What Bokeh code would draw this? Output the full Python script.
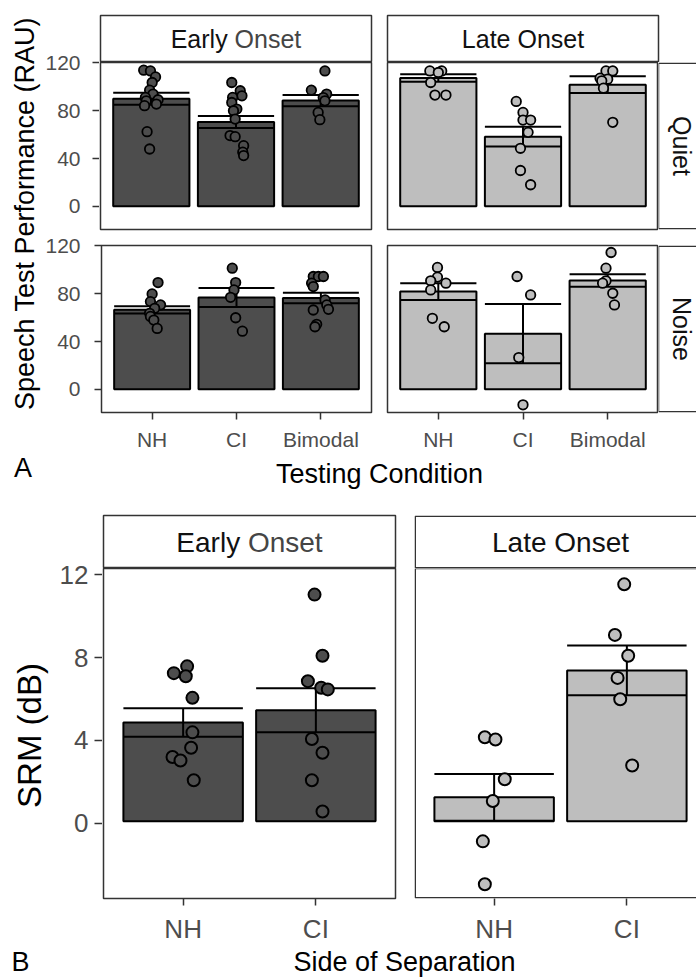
import math
from bokeh.plotting import figure
from bokeh.layouts import row, column
from bokeh.models import Range1d, FixedTicker, Label, BoxAnnotation, Spacer, LinearAxis
from bokeh.embed import file_html
from bokeh.resources import INLINE

FONT = "Liberation Sans"

# ---------------- data ----------------
conditions_a = ["NH", "CI", "Bimodal"]
conditions_b = ["NH", "CI"]
y_ticks_a = [0, 40, 80, 120]
y_ticks_b = [0, 4, 8, 12]

# Panel A: bar means and standard errors (RAU)
a_early_quiet_mean = [90.0, 70.5, 88.5]
a_early_quiet_se = [5.0, 5.0, 4.7]
a_late_quiet_mean = [107.4, 58.3, 101.8]
a_late_quiet_se = [3.1, 8.3, 7.0]
a_early_noise_mean = [66.5, 76.8, 76.4]
a_early_noise_se = [3.0, 8.0, 4.4]
a_late_noise_mean = [81.8, 46.6, 91.0]
a_late_noise_se = [7.0, 24.8, 5.2]

# Panel A: individual listeners (values) and their horizontal jitter
a_early_quiet_pts = [
    [113.9, 113.3, 108.3, 103.6, 97.2, 93.9, 91.1, 89.2, 88.3, 85.6, 84.2, 62.5, 48.0],
    [103.6, 96.7, 92.5, 91.1, 86.9, 81.4, 80.0, 73.0, 59.2, 58.3, 50.8, 45.3, 42.5],
    [113.3, 97.2, 93.9, 91.0, 88.3, 78.6, 72.5],
]
a_early_quiet_jit = [
    [-0.09, -0.01, 0.05, 0.01, -0.02, 0.02, -0.07, 0.08, -0.06, 0.06, -0.08, -0.05, -0.02],
    [-0.05, 0.05, 0.07, -0.04, -0.05, 0.01, -0.03, -0.01, -0.07, -0.01, 0.09, 0.08, 0.09],
    [0.05, -0.11, 0.07, 0.03, 0.05, -0.03, -0.01],
]
a_late_quiet_pts = [
    [113.3, 113.3, 112.0, 103.6, 93.1, 93.1],
    [87.8, 78.6, 72.2, 72.2, 61.9, 48.6, 30.0, 18.1],
    [113.3, 113.3, 107.2, 106.4, 105.0, 98.9, 70.3],
]
a_late_quiet_jit = [
    [-0.10, 0.04, 0.00, -0.09, -0.04, 0.09],
    [-0.08, 0.00, 0.00, 0.09, 0.06, -0.03, -0.03, 0.09],
    [-0.02, 0.06, -0.09, 0.00, -0.07, -0.05, 0.06],
]
a_early_noise_pts = [
    [89.3, 79.8, 73.4, 70.6, 67.8, 63.6, 61.0, 58.0, 51.0],
    [101.4, 89.3, 83.2, 77.0, 59.9, 48.7],
    [94.4, 94.4, 94.4, 88.8, 86.0, 74.8, 70.6, 67.0, 66.4, 54.4, 52.4],
]
a_early_noise_jit = [
    [0.07, 0.00, -0.02, 0.10, 0.03, -0.03, -0.02, 0.02, 0.06],
    [-0.05, -0.01, -0.03, -0.07, -0.01, 0.07],
    [-0.09, -0.03, 0.03, -0.11, -0.09, 0.05, 0.07, 0.09, -0.09, -0.05, -0.07],
]
a_late_noise_pts = [
    [102.0, 93.9, 90.8, 88.8, 83.2, 59.4, 52.4],
    [94.4, 79.0, 26.6, -12.9],
    [114.5, 101.4, 90.8, 88.8, 80.4, 70.6],
]
a_late_noise_jit = [
    [-0.01, -0.01, -0.09, 0.09, -0.09, -0.07, 0.07],
    [-0.07, 0.09, -0.05, 0.00],
    [0.04, -0.02, -0.02, -0.06, 0.06, 0.08],
]

# Panel B: SRM (dB)
b_early_mean = [4.80, 5.39]
b_early_se = [0.69, 1.07]
b_late_mean = [1.16, 7.33]
b_late_se = [1.14, 1.21]
b_early_pts = [
    [7.53, 7.20, 7.05, 6.00, 4.32, 3.57, 3.12, 2.95, 1.99],
    [11.02, 8.05, 6.81, 6.49, 6.41, 4.00, 3.33, 1.99, 0.47],
]
b_early_jit = [
    [0.03, -0.07, 0.02, 0.07, 0.07, 0.06, -0.08, -0.02, 0.08],
    [-0.01, 0.05, -0.06, 0.04, 0.09, -0.03, 0.05, -0.03, 0.05],
]
b_late_pts = [
    [4.08, 3.97, 2.04, 0.98, -0.98, -3.07],
    [11.52, 9.06, 8.05, 6.97, 5.93, 2.71],
]
b_late_jit = [
    [-0.07, 0.01, 0.08, -0.01, -0.085, -0.07],
    [-0.02, -0.09, 0.01, -0.07, -0.05, 0.04],
]

# ---------------- styling ----------------
EARLY_FILL = "#4D4D4D"
LATE_FILL = "#BEBEBE"
BORDER = "#333333"
TICK_TXT = "#4D4D4D"
STRIP_TXT = "#111111"
HALF = 0.75  # half of the border line width, in pixels

A_YR = (-19.35, 120.35)
A_XR = (0.4, 3.6)
A_FW, A_FH = 271, 167

B_YR = (-3.76, 12.29)
B_FW_E, B_FW_L, B_FH = 292, 282, 333
B_PX = B_FW_E / 2.2
B_PY = B_FH / (B_YR[1] - B_YR[0])
B_XR_E = (0.4, 2.6)
B_XR_L = (0.4, 0.4 + B_FW_L / B_PX)


def new_fig(w, h, left, right, top, bottom, xr, yr, outline=True):
    p = figure(width=w, height=h, x_range=Range1d(*xr), y_range=Range1d(*yr),
               x_axis_type=None, y_axis_type=None, toolbar_location=None,
               output_backend="svg", title=None, min_border=0)
    p.min_border_left = left
    p.min_border_right = right
    p.min_border_top = top
    p.min_border_bottom = bottom
    p.background_fill_color = "white"
    p.border_fill_color = "white"
    if outline:
        p.outline_line_color = BORDER
        p.outline_line_width = 1.5
    else:
        p.outline_line_color = None
    return p


def style_axis(ax, fs, standoff, tick_in=0):
    ax.axis_line_color = None
    ax.major_tick_line_color = BORDER
    ax.major_tick_line_width = 1.5
    ax.major_tick_out = 7
    ax.major_tick_in = tick_in
    ax.minor_tick_line_color = None
    ax.minor_tick_out = 0
    ax.major_label_text_font = FONT
    ax.major_label_text_font_size = f"{fs}px"
    ax.major_label_text_color = TICK_TXT
    ax.major_label_standoff = standoff


def add_y_axis(p, ticks, fs, standoff, tick_in=0):
    ax = LinearAxis(ticker=FixedTicker(ticks=ticks))
    style_axis(ax, fs, standoff, tick_in)
    p.add_layout(ax, "left")


def add_x_axis(p, labels, fs, standoff):
    ticks = list(range(1, len(labels) + 1))
    ax = LinearAxis(ticker=FixedTicker(ticks=ticks),
                    major_label_overrides={t: l for t, l in zip(ticks, labels)})
    style_axis(ax, fs, standoff)
    p.add_layout(ax, "below")


def draw_data(p, means, se, pts, jit, fill, size, lw):
    xs = list(range(1, len(means) + 1))
    p.vbar(x=xs, top=means, bottom=0, width=0.9, fill_color=fill,
           line_color="black", line_width=2)
    lo = [m - s for m, s in zip(means, se)]
    hi = [m + s for m, s in zip(means, se)]
    xl = [x - 0.45 for x in xs]
    xr = [x + 0.45 for x in xs]
    p.segment(x0=xs, y0=lo, x1=xs, y1=hi, line_color="black", line_width=2)
    p.segment(x0=xl, y0=hi, x1=xr, y1=hi, line_color="black", line_width=2)
    p.segment(x0=xl, y0=lo, x1=xr, y1=lo, line_color="black", line_width=2)
    px, py = [], []
    for i, x in enumerate(xs):
        for v, j in zip(pts[i], jit[i]):
            px.append(x + j)
            py.append(v)
    p.scatter(px, py, marker="circle", size=size, fill_color=fill,
              line_color="black", line_width=lw)


def add_text(p, x, y, text, fs, color="black", angle=0.0, align="center"):
    p.add_layout(Label(x=x, y=y, text=text, text_font=FONT,
                       text_font_size=f"{fs}px", text_color=color,
                       text_align=align, text_baseline="middle", angle=angle))


def strip_label(p, cx, cy, text, fs):
    if text == "Early Onset":
        add_text(p, cx - 0.334 * fs, cy, "Early", fs, color=STRIP_TXT, align="right")
        add_text(p, cx - 0.056 * fs, cy, "Onset", fs, color="#454545", align="left")
    else:
        add_text(p, cx, cy, text, fs, color=STRIP_TXT)


def open_box(p, left, right, bottom, top):
    p.add_layout(BoxAnnotation(left=left, right=right, bottom=bottom, top=top,
                               fill_color=None, fill_alpha=0,
                               line_color=BORDER, line_alpha=1.0, line_width=1.5))


# ---------------- panel A ----------------
axisQ = new_fig(57, 231, 56, 0, 62, 2, (0, 1), A_YR, outline=False)
add_y_axis(axisQ, y_ticks_a, 21, 12, tick_in=1)

stripE = new_fig(274, 62, 1, 2, 15, 0, (0, A_FW), (0, 47))
strip_label(stripE, A_FW / 2, 23.5, "Early Onset", 25)
stripL = new_fig(287, 62, 14, 2, 15, 0, (0, A_FW), (0, 47))
strip_label(stripL, A_FW / 2, 23.5, "Late Onset", 25)

EQ = new_fig(274, 169, 1, 2, 0, 2, A_XR, A_YR)
draw_data(EQ, a_early_quiet_mean, a_early_quiet_se, a_early_quiet_pts, a_early_quiet_jit, EARLY_FILL, 9.5, 1.8)

LQ = new_fig(285, 169, 14, 0, 0, 2, A_XR, A_YR)
draw_data(LQ, a_late_quiet_mean, a_late_quiet_se, a_late_quiet_pts, a_late_quiet_jit, LATE_FILL, 9.5, 1.8)

stripQ = new_fig(38, 169, 0, 0, 0, 2, (0, 38), (0, A_FH), outline=False)
open_box(stripQ, 0, 90, HALF, A_FH - HALF)
add_text(stripQ, 23, A_FH / 2, "Quiet", 25, color=STRIP_TXT, angle=-math.pi / 2)

EN = new_fig(331, 229, 58, 2, 14, 48, A_XR, A_YR)
draw_data(EN, a_early_noise_mean, a_early_noise_se, a_early_noise_pts, a_early_noise_jit, EARLY_FILL, 9.5, 1.8)
add_y_axis(EN, y_ticks_a, 21, 14)
add_x_axis(EN, conditions_a, 21, 8)

LN = new_fig(285, 229, 14, 0, 14, 48, A_XR, A_YR)
draw_data(LN, a_late_noise_mean, a_late_noise_se, a_late_noise_pts, a_late_noise_jit, LATE_FILL, 9.5, 1.8)
add_x_axis(LN, conditions_a, 21, 8)

stripN = new_fig(38, 229, 0, 0, 14, 48, (0, 38), (0, A_FH), outline=False)
open_box(stripN, 0, 90, HALF, A_FH - HALF)
add_text(stripN, 23, A_FH / 2, "Noise", 25, color=STRIP_TXT, angle=-math.pi / 2)

titleA = new_fig(654, 38, 0, 0, 0, 0, (0, 654), (0, 38), outline=False)
add_text(titleA, 337, 25, "Testing Condition", 27)

leftA = new_fig(42, 498, 0, 0, 0, 0, (0, 42), (0, 498), outline=False)
add_text(leftA, 24, 285, "Speech Test Performance (RAU)", 27, angle=math.pi / 2)
add_text(leftA, 22.5, 31, "A", 27)

topA = row(axisQ, column(row(stripE, stripL, Spacer(width=36, height=62)),
                         row(EQ, LQ, stripQ)))
colA = column(topA, row(EN, LN, stripN), titleA)
blockA = row(leftA, colA)

# ---------------- panel B ----------------
axisB = new_fig(52, 448, 51, 0, 70, 45, (0, 1), B_YR, outline=False)
add_y_axis(axisB, y_ticks_b, 26, 6, tick_in=1)

stripBE = new_fig(295, 70, 1, 2, 17, 0, (0, B_FW_E), (0, 53))
strip_label(stripBE, B_FW_E / 2, 26.5, "Early Onset", 28)
stripBL = new_fig(299, 70, 17, 0, 17, 0, (0, B_FW_L), (0, 53), outline=False)
open_box(stripBL, HALF, 400, HALF, 53 - HALF)
strip_label(stripBL, B_FW_E / 2, 26.5, "Late Onset", 28)

BE = new_fig(295, 378, 1, 2, 0, 45, B_XR_E, B_YR)
draw_data(BE, b_early_mean, b_early_se, b_early_pts, b_early_jit, EARLY_FILL, 12, 2)
add_x_axis(BE, conditions_b, 26, 8)

BL = new_fig(299, 378, 17, 0, 0, 45, B_XR_L, B_YR, outline=False)
draw_data(BL, b_late_mean, b_late_se, b_late_pts, b_late_jit, LATE_FILL, 12, 2)
open_box(BL, B_XR_L[0] + HALF / B_PX, 5, B_YR[0] + HALF / B_PY, B_YR[1])
add_x_axis(BL, conditions_b, 26, 8)

titleB = new_fig(646, 31, 0, 0, 0, 0, (0, 646), (0, 31), outline=False)
add_text(titleB, 354, 16, "Side of Separation", 27)

leftB = new_fig(50, 479, 0, 0, 0, 0, (0, 50), (0, 479), outline=False)
add_text(leftB, 29, 242, "SRM (dB)", 33, angle=math.pi / 2)
add_text(leftB, 20, 15.5, "B", 27)

topB = row(axisB, column(row(stripBE, stripBL), row(BE, BL)))
colB = column(topB, titleB)
blockB = row(leftB, colB)

layout = column(blockA, blockB)

open("out.html", "w").write(file_html(layout, INLINE))
